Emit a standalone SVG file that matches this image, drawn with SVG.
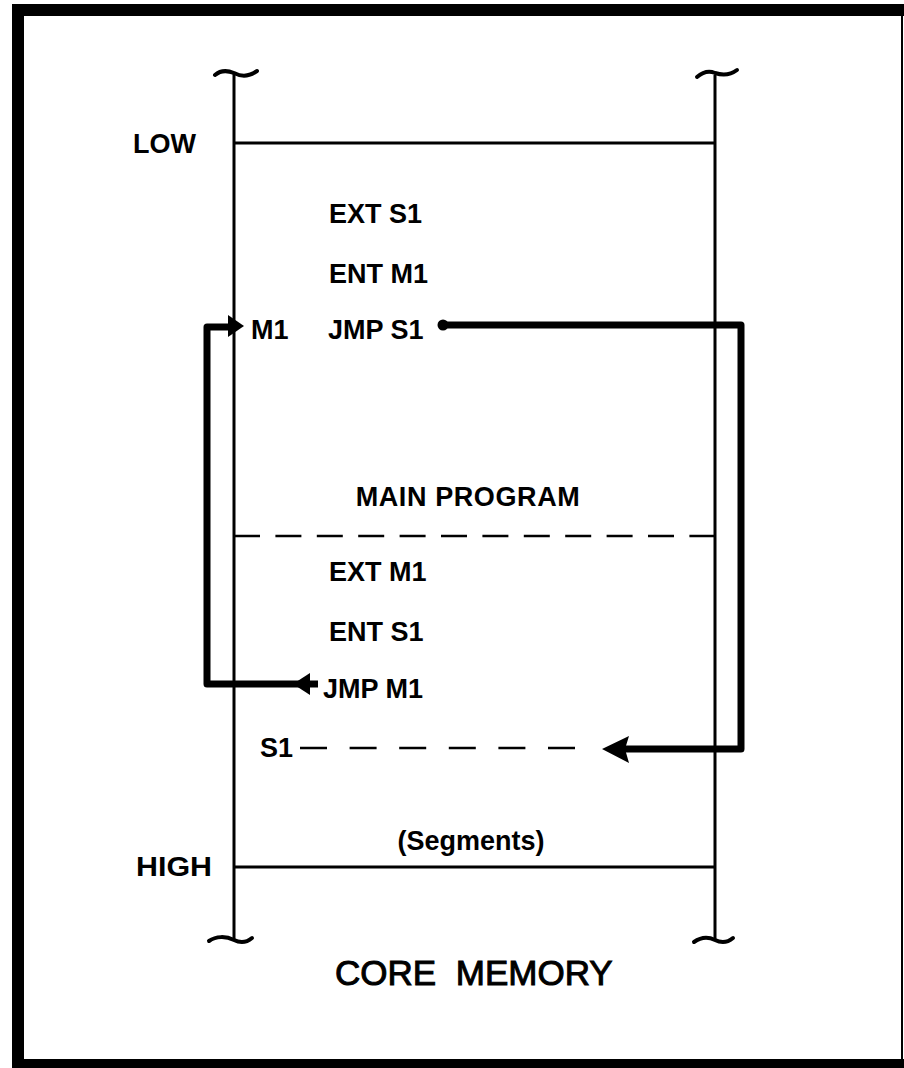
<svg xmlns="http://www.w3.org/2000/svg" width="904" height="1068" viewBox="0 0 904 1068">
<style>
.t{font-family:"Liberation Sans",Arial,sans-serif;font-weight:bold;font-size:27px;fill:#000}
.thin{fill:none;stroke:#000;stroke-width:3}
.tilde{fill:none;stroke:#000;stroke-width:4;stroke-linecap:round}
.thick{fill:none;stroke:#000;stroke-width:7;stroke-linejoin:round}
.dash{fill:none;stroke:#000;stroke-width:2.5}
</style>
<rect width="904" height="1068" fill="#fff"/>
<path d="M18 1070 V10 H910 M18 1065 H910" fill="none" stroke="#000" stroke-width="12"/>
<line x1="902" y1="10" x2="902" y2="1064" stroke="#000" stroke-width="2"/>
<g id="memory">
<line class="thin" x1="234" y1="74" x2="234" y2="941"/>
<line class="thin" x1="715" y1="75" x2="715" y2="941"/>
<path class="tilde" d="M215 75 C222 69 229 71 234 73 C240 76 247 78 257 71"/>
<path class="tilde" d="M697 77 C704 71 710 71 715 73 C721 75 729 76 737 70"/>
<path class="tilde" d="M209 941 C216 936 226 936 234 940 C240 943 246 943 252 938"/>
<path class="tilde" d="M694 942 C701 937 709 937 715 940 C721 943 727 943 733 938"/>
</g>
<g id="low">
<line class="thin" x1="234" y1="143" x2="715" y2="143"/>
<text class="t" x="133" y="153">LOW</text>
</g>
<g id="high">
<line class="thin" x1="234" y1="867" x2="715" y2="867"/>
<text class="t" x="136" y="876" textLength="76" lengthAdjust="spacingAndGlyphs">HIGH</text>
</g>
<g id="main-program">
<text class="t" x="329" y="223">EXT S1</text>
<text class="t" x="329" y="283">ENT M1</text>
<text class="t" x="251" y="339">M1</text>
<text class="t" x="328" y="339">JMP S1</text>
<text class="t" x="468" y="506" text-anchor="middle" letter-spacing="0.6">MAIN PROGRAM</text>
</g>
<g id="divider">
<line class="dash" x1="234" y1="536" x2="715" y2="536" stroke-dasharray="26 15.4"/>
</g>
<g id="segments">
<text class="t" x="329" y="581">EXT M1</text>
<text class="t" x="329" y="641">ENT S1</text>
<text class="t" x="323" y="698">JMP M1</text>
<text class="t" x="260" y="757">S1</text>
<line class="dash" x1="300" y1="748" x2="575" y2="748" stroke-dasharray="27 22.6"/>
<text class="t" x="471" y="850" text-anchor="middle" font-size="24">(Segments)</text>
</g>
<g id="connectors">
<circle cx="443" cy="325" r="5.5" fill="#000"/>
<path class="thick" d="M443 325 H741 V749 H622"/>
<polygon points="602,749 629,736 625,749 629,763" fill="#000"/>
<path class="thick" d="M318 684 H207 V327 H232"/>
<polygon points="293,684 310,673 310,695" fill="#000"/>
<polygon points="244,326 228,315 228,337" fill="#000"/>
</g>
<g id="title">
<text x="335" y="985" font-family="'Liberation Sans',Arial,sans-serif" font-size="35" word-spacing="10" stroke="#000" stroke-width="1">CORE MEMORY</text>
</g>
</svg>
